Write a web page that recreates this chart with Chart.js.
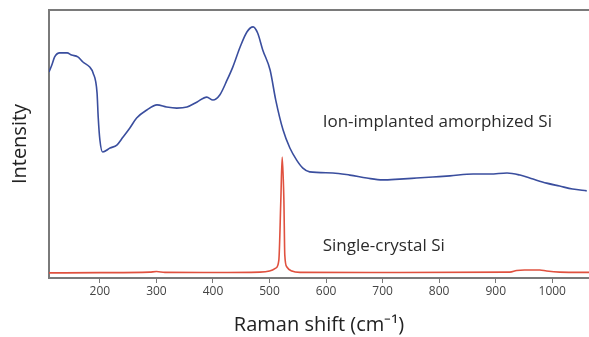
<!DOCTYPE html>
<html>
<head>
<meta charset="utf-8">
<script src="https://cdn.jsdelivr.net/npm/chart.js@4/dist/chart.umd.min.js"></script>
<style>
  html, body { margin: 0; padding: 0; background: #fff; }
  #wrap { width: 589px; height: 337px; }
</style>
</head>
<body>
<div id="wrap"><canvas id="ramanChart"></canvas></div>
<script>
// Raman shift (cm-1) / intensity (arbitrary units, 0-100)
const amorphShift = [110, 115, 120, 129, 142, 150, 161, 170, 182, 188, 195, 197, 200, 205, 218, 230, 241, 253, 265, 283, 301, 318, 336, 354, 372, 389, 400, 412, 425, 435, 448, 460, 471, 479, 488, 501, 511, 524, 536, 548, 559, 571, 612, 642, 672, 700, 730, 760, 789, 819, 860, 890, 920, 943, 966, 990, 1013, 1036, 1061];
const amorphInt = [76.9, 79.5, 82.5, 84.0, 84.0, 83.2, 82.5, 80.6, 78.7, 76.5, 69.0, 60.1, 51.5, 47.0, 48.5, 49.6, 52.6, 56.0, 59.7, 62.7, 64.6, 63.8, 63.4, 63.8, 65.7, 67.5, 66.4, 68.3, 73.9, 78.7, 86.2, 91.8, 93.7, 91.4, 85.1, 77.6, 66.4, 55.2, 48.5, 44.0, 41.0, 39.6, 39.2, 38.4, 37.3, 36.6, 36.9, 37.3, 37.7, 38.1, 38.8, 38.8, 39.2, 38.4, 36.9, 35.4, 34.3, 33.2, 32.5];

const crystalShift = [110, 200, 288, 300, 315, 400, 483, 500, 511, 516.5, 520, 522.4, 525.4, 527, 530.7, 539.5, 554, 730, 925, 937, 951, 978, 990, 1013, 1065];
const crystalInt = [1.9, 2.0, 2.2, 2.4, 2.1, 2.05, 2.2, 2.6, 3.7, 6.7, 29, 45.1, 29, 8.6, 4.1, 2.6, 2.1, 2.05, 2.2, 2.8, 3.0, 3.0, 2.6, 2.2, 2.1];

const xTicks = [200, 300, 400, 500, 600, 700, 800, 900, 1000];

const seriesLabels = [
    { text: 'Ion-implanted amorphized Si', x: 594, y: 58.2 },
    { text: 'Single-crystal Si', x: 594, y: 11.9 }
];

function toPoints(xs, ys) {
    return xs.map((x, i) => ({ x: x, y: ys[i] }));
}

// 图中文字标注
const labelPlugin = {
    id: 'seriesLabels',
    afterDatasetsDraw(chart) {
        const { ctx, scales } = chart;
        ctx.save();
        ctx.font = '17px "Open Sans"';
        ctx.fillStyle = '#2b2b2b';
        ctx.textBaseline = 'middle';
        ctx.textAlign = 'left';
        seriesLabels.forEach(l => {
            ctx.fillText(l.text, scales.x.getPixelForValue(l.x), scales.y.getPixelForValue(l.y));
        });
        ctx.restore();
    }
};

const gray = '#7a7a7a';

new Chart(document.getElementById('ramanChart'), {
    type: 'line',
    data: {
        datasets: [{
            label: 'Ion-implanted amorphized Si',
            data: toPoints(amorphShift, amorphInt),
            borderColor: '#3a4e9e',
            borderWidth: 1.6,
            pointRadius: 0,
            cubicInterpolationMode: 'monotone'
        }, {
            label: 'Single-crystal Si',
            data: toPoints(crystalShift, crystalInt),
            borderColor: '#e0513f',
            borderWidth: 1.6,
            pointRadius: 0,
            cubicInterpolationMode: 'monotone'
        }]
    },
    options: {
        responsive: true,
        maintainAspectRatio: false,
        animation: false,
        layout: { padding: 0 },
        plugins: {
            legend: { display: false },
            tooltip: { enabled: false }
        },
        scales: {
            x: {
                type: 'linear',
                min: 110,
                max: 1065,
                afterBuildTicks: s => { s.ticks = xTicks.map(v => ({ value: v })); },
                afterFit: s => { s.height = 59; },
                grid: { display: true, drawOnChartArea: false, drawTicks: true, tickLength: 5, color: gray, lineWidth: 1 },
                border: { display: true, color: gray, width: 2 },
                ticks: {
                    color: '#444',
                    font: { family: 'Open Sans', size: 12 },
                    padding: 1,
                    maxRotation: 0,
                    callback: v => String(v)
                },
                title: {
                    display: true,
                    text: 'Raman shift (cm\u207B\u00B9)',
                    color: '#222',
                    font: { family: 'Open Sans', size: 20 },
                    padding: { top: 0, bottom: 0 }
                }
            },
            xTop: {
                type: 'linear',
                position: 'top',
                min: 110,
                max: 1065,
                afterFit: s => { s.height = 10; },
                grid: { display: false, drawTicks: false },
                border: { display: true, color: gray, width: 2 },
                ticks: { display: false }
            },
            y: {
                min: 0,
                max: 100,
                afterFit: s => { s.width = 49; },
                grid: { display: false, drawTicks: false },
                border: { display: true, color: gray, width: 2 },
                ticks: { display: false },
                title: {
                    display: true,
                    text: 'Intensity',
                    color: '#222',
                    font: { family: 'Open Sans', size: 20 },
                    padding: { top: 8, bottom: 0 }
                }
            }
        }
    },
    plugins: [labelPlugin]
});
</script>
</body>
</html>
